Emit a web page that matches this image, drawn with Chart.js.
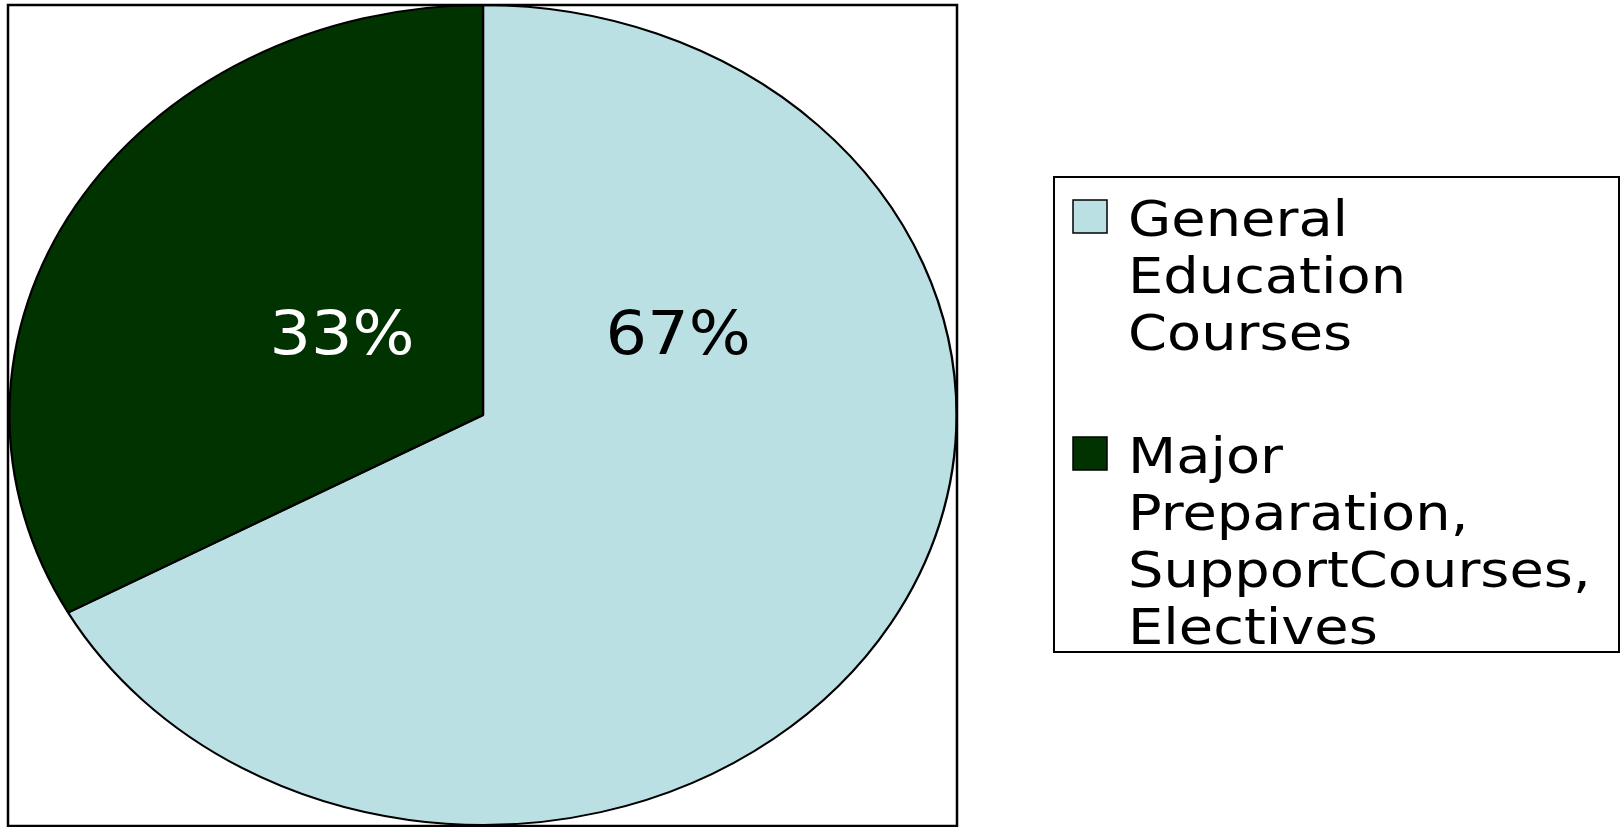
<!DOCTYPE html>
<html>
<head>
<meta charset="utf-8">
<script src="https://cdn.jsdelivr.net/npm/chart.js@4/dist/chart.umd.min.js"></script>
<style>
  html, body { margin: 0; padding: 0; background: #fff; }
  #pie { display: block; }
</style>
</head>
<body>
<canvas id="pie" width="1623" height="827"></canvas>
<script>
// data
const categories = [
    ["General", "Education", "Courses"],
    ["Major", "Preparation,", "SupportCourses,", "Electives"]
];
const shares = [67, 33];
const sliceColors = ["#BBE0E3", "#003300"];
const labelColors = ["#000000", "#ffffff"];

// the original pie is drawn as an ellipse
const STRETCH = 1.155;

// STRETCH THE ARCS INTO AN ELLIPSE
const ellipsePlugin = {
    id: "ellipse",
    beforeDatasetsDraw(chart) {
        const arc = chart.getDatasetMeta(0).data[0];
        const ctx = chart.ctx;
        ctx.save();
        ctx.translate(arc.x, arc.y);
        ctx.scale(STRETCH, 1);
        ctx.translate(-arc.x, -arc.y);
    },
    afterDatasetsDraw(chart) {
        chart.ctx.restore();
    }
};

// FRAME, PERCENT LABELS, LEGEND
const decorPlugin = {
    id: "decor",
    beforeDraw(chart) {
        const ctx = chart.ctx;
        ctx.save();
        ctx.fillStyle = "#fff";
        ctx.fillRect(0, 0, chart.width, chart.height);
        ctx.restore();
    },
    afterDraw(chart) {
        const ctx = chart.ctx;
        const meta = chart.getDatasetMeta(0);
        const cx = meta.data[0].x, cy = meta.data[0].y;
        const r = meta.data[0].outerRadius;

        ctx.save();
        // outer frame
        ctx.strokeStyle = "#000";
        ctx.lineWidth = 2.5;
        ctx.strokeRect(8, 5, 949, 821);

        // percent labels (placed like the original, upper half)
        const offs = [[0.476, -0.149], [-0.344, -0.149]];
        ctx.font = "61px 'DejaVu Sans'";
        ctx.textAlign = "center";
        ctx.textBaseline = "alphabetic";
        const total = shares.reduce((a, b) => a + b, 0);
        shares.forEach((v, i) => {
            const x = cx + offs[i][0] * r;
            const y = cy + offs[i][1] * r;
            ctx.save();
            ctx.translate(x, y);
            ctx.scale(1.07, 1);
            ctx.fillStyle = labelColors[i];
            ctx.fillText(Math.round(v / total * 100) + "%", 0, 0);
            ctx.restore();
        });

        // legend box
        ctx.lineWidth = 2;
        ctx.strokeRect(1054, 177, 565, 475);

        const lineH = 57;
        const firstBase = [236, 473];
        ctx.font = "49px 'DejaVu Sans'";
        ctx.textAlign = "left";
        chart.data.labels.forEach((lines, i) => {
            const base = firstBase[i];
            ctx.fillStyle = chart.data.datasets[0].backgroundColor[i];
            ctx.fillRect(1073, base - 36, 34, 33);
            ctx.lineWidth = 1.5;
            ctx.strokeStyle = "#000";
            ctx.strokeRect(1073, base - 36, 34, 33);
            ctx.fillStyle = "#000";
            lines.forEach((ln, j) => {
                ctx.save();
                ctx.translate(1128, base + j * lineH);
                ctx.scale(1.14, 1);
                ctx.fillText(ln, 0, 0);
                ctx.restore();
            });
        });
        ctx.restore();
    }
};

const chart = new Chart(document.getElementById("pie"), {
    type: "pie",
    data: {
        labels: categories,
        datasets: [{
            data: shares,
            backgroundColor: sliceColors,
            borderColor: "#000",
            borderWidth: 2,
            clip: false
        }]
    },
    options: {
        responsive: false,
        devicePixelRatio: 1,
        animation: false,
        layout: { padding: { left: 72, top: 4, right: 729, bottom: 1 } },
        plugins: {
            legend: { display: false },
            tooltip: { enabled: false }
        }
    },
    plugins: [ellipsePlugin, decorPlugin]
});
</script>
</body>
</html>
